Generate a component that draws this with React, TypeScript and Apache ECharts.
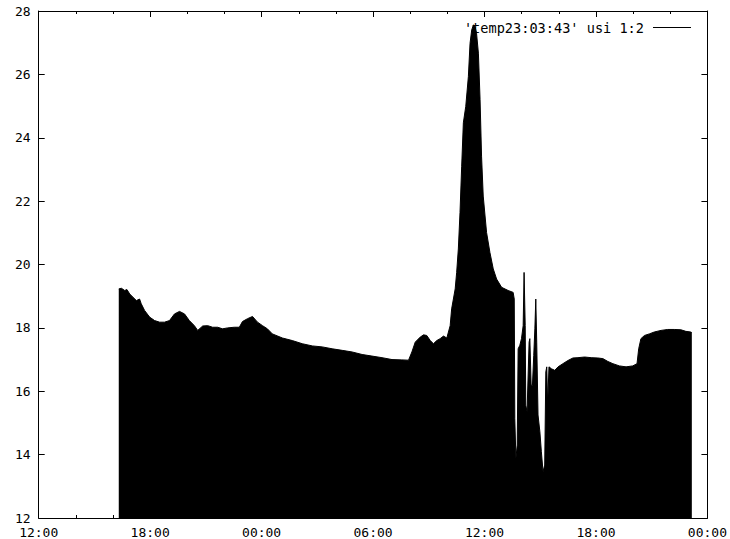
import React, { useEffect, useRef } from "react";
import * as echarts from "echarts";

// hours elapsed since 12:00 of the first day
const hours = [
  4.31, 4.45, 4.63, 4.75, 4.9, 5.07, 5.26, 5.43, 5.52, 5.7, 5.97, 6.24, 6.51, 6.77, 7.04, 7.31, 7.58, 7.85,
  8.11, 8.38, 8.56, 8.83, 9.1, 9.36, 9.63, 9.9, 10.17, 10.53, 10.8, 10.97, 11.24, 11.51, 11.78, 12.05, 12.31,
  12.58, 13.12, 13.65, 14.19, 14.73, 15.26, 15.8, 16.34, 16.87, 17.41, 17.94, 18.48, 19.02, 19.55, 19.91,
  20.09, 20.27, 20.54, 20.72, 20.89, 21.08, 21.25, 21.43, 21.61, 21.79, 21.97, 22.15, 22.23, 22.42, 22.5,
  22.59, 22.68, 22.77, 22.86, 22.99, 23.13, 23.22, 23.31, 23.4, 23.49, 23.57, 23.67, 23.76, 23.84, 23.93,
  24.11, 24.29, 24.47, 24.65, 24.92, 25.27, 25.54, 25.6, 25.63, 25.69, 25.76, 25.81, 25.9, 25.99, 26.08,
  26.13, 26.19, 26.22, 26.29, 26.4, 26.44, 26.51, 26.58, 26.65, 26.71, 26.76, 26.81, 26.88, 26.98, 27.06,
  27.15, 27.24, 27.3, 27.35, 27.4, 27.47, 27.6, 27.78, 27.96, 28.22, 28.49, 28.76, 29.03, 29.39, 29.74,
  30.1, 30.37, 30.64, 30.91, 31.26, 31.62, 31.98, 32.21, 32.3, 32.42, 32.61, 32.87, 33.14, 33.5, 33.86,
  34.21, 34.57, 34.84, 35.1, 35.16,
];

const temps = [
  19.23, 19.25, 19.18, 19.21, 19.07, 18.97, 18.86, 18.91, 18.76, 18.55, 18.34, 18.23, 18.18, 18.18, 18.23,
  18.44, 18.52, 18.44, 18.23, 18.07, 17.92, 18.06, 18.07, 18.02, 18.02, 17.97, 18.0, 18.02, 18.02, 18.2,
  18.29, 18.36, 18.18, 18.07, 17.97, 17.81, 17.68, 17.6, 17.5, 17.43, 17.4, 17.34, 17.29, 17.24, 17.16,
  17.11, 17.06, 17.0, 16.99, 16.98, 17.24, 17.55, 17.71, 17.78, 17.76, 17.6, 17.5, 17.6, 17.66, 17.74,
  17.68, 18.07, 18.6, 19.23, 19.75, 20.49, 21.64, 23.1, 24.47, 24.99, 25.93, 26.98, 27.4, 27.56, 27.51,
  27.3, 26.67, 25.2, 23.42, 22.16, 21.01, 20.38, 19.86, 19.54, 19.28, 19.18, 19.12, 18.91, 15.14, 13.88,
  14.3, 17.34, 17.45, 17.66, 18.07, 19.75, 18.07, 15.56, 15.35, 17.55, 17.66, 16.19, 16.19, 17.13, 17.97,
  18.91, 17.55, 15.25, 14.72, 14.09, 13.46, 13.67, 16.61, 16.77, 15.56, 16.77, 16.71, 16.66, 16.77, 16.87,
  16.97, 17.05, 17.06, 17.08, 17.06, 17.05, 17.03, 16.94, 16.87, 16.8, 16.77, 16.8, 16.87, 17.34, 17.66,
  17.76, 17.81, 17.87, 17.92, 17.95, 17.95, 17.94, 17.89, 17.87, 17.85,
];

const xTickLabels = ["12:00", "18:00", "00:00", "06:00", "12:00", "18:00", "00:00"];
const seriesName = "'temp23:03:43' usi 1:2";

const FONT = "DejaVu Sans Mono";

export default function App() {
  const ref = useRef<HTMLDivElement>(null);

  useEffect(() => {
    if (!ref.current) return;
    const chart = echarts.init(ref.current, undefined, { renderer: "svg" });
    const data = hours.map((h, i) => [h, temps[i]]);

    const tickStyle = { color: "#000", width: 1 };
    const baseX = {
      type: "value" as const,
      min: 0,
      max: 36,
      interval: 6,
      axisLine: { show: true, onZero: false, lineStyle: tickStyle },
      axisTick: { show: true, inside: true, length: 6, lineStyle: tickStyle },
      minorTick: { show: true, splitNumber: 3, length: 3, lineStyle: tickStyle },
      splitLine: { show: false },
    };
    const baseY = {
      type: "value" as const,
      min: 12,
      max: 28,
      interval: 2,
      axisLine: { show: true, onZero: false, lineStyle: tickStyle },
      axisTick: { show: true, inside: true, length: 6, lineStyle: tickStyle },
      splitLine: { show: false },
    };

    chart.setOption({
      animation: false,
      backgroundColor: "#fff",
      grid: { left: 38.7, right: 20, top: 11, bottom: 19, containLabel: false },
      legend: {
        show: true,
        data: [seriesName],
        right: 34,
        top: 15.5,
        align: "right",
        icon: "rect",
        itemWidth: 38,
        itemHeight: 1,
        itemStyle: { color: "#000" },
        textStyle: {
          fontFamily: FONT,
          fontSize: 13.6,
          lineHeight: 13,
          color: "#000",
          padding: [0, 4, 0, 0],
        },
        selectedMode: false,
      },
      xAxis: [
        {
          ...baseX,
          position: "bottom",
          axisLabel: {
            show: true,
            margin: 8,
            fontFamily: FONT,
            fontSize: 13,
            color: "#000",
            formatter: (v: number) => xTickLabels[Math.round(v / 6)] ?? "",
          },
        },
        { ...baseX, position: "top", axisLabel: { show: false } },
      ],
      yAxis: [
        {
          ...baseY,
          position: "left",
          axisLabel: { show: true, margin: 8, fontFamily: FONT, fontSize: 13, color: "#000" },
        },
        { ...baseY, position: "right", axisLabel: { show: false } },
      ],
      series: [
        {
          name: seriesName,
          type: "line",
          xAxisIndex: 0,
          yAxisIndex: 0,
          data,
          color: "#000",
          showSymbol: false,
          symbol: "none",
          lineStyle: { color: "#000", width: 1 },
          areaStyle: { color: "#000", opacity: 1, origin: "start" },
        },
      ],
    });

    return () => chart.dispose();
  }, []);

  return (
    <div
      ref={ref}
      style={{ position: "absolute", left: 0, top: 0, width: 730, height: 539 }}
    />
  );
}
